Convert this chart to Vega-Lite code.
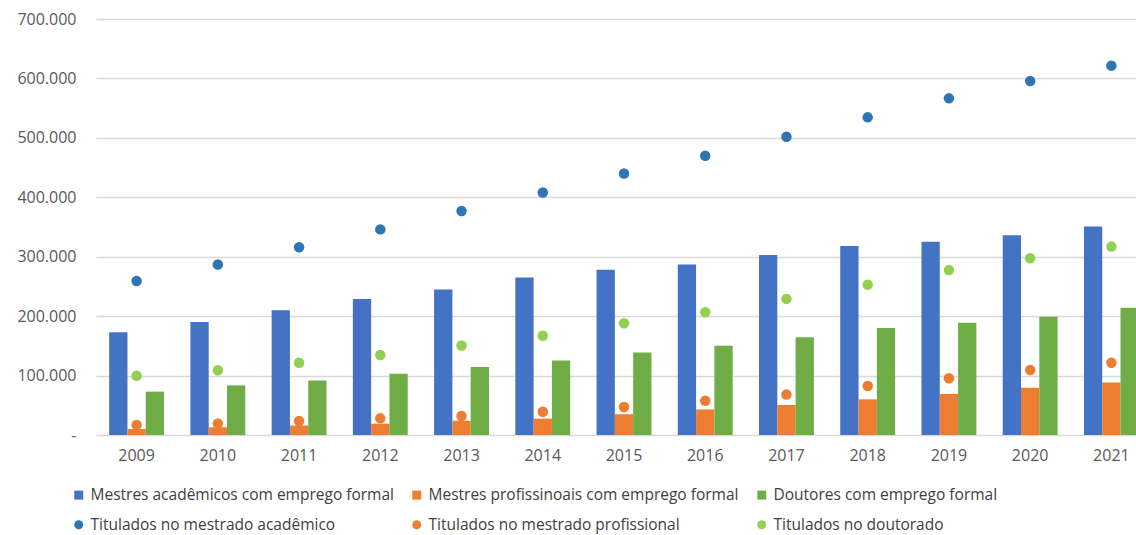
{
  "$schema": "https://vega.github.io/schema/vega-lite/v6.json",
  "width": 1040,
  "height": 416,
  "autosize": {"type": "none"},
  "padding": {"left": 96, "top": 19, "right": 0, "bottom": 100},
  "background": "white",
  "config": {
    "locale": {"number": {"decimal": ",", "thousands": ".", "grouping": [3], "currency": ["R$", ""]}},
    "view": {"stroke": null},
    "font": "Open Sans"
  },
  "data": {
    "values": [
      {"ano": "2009", "tipo": "barra", "serie": "Mestres acadêmicos com emprego formal", "valor": 173000},
      {"ano": "2010", "tipo": "barra", "serie": "Mestres acadêmicos com emprego formal", "valor": 190000},
      {"ano": "2011", "tipo": "barra", "serie": "Mestres acadêmicos com emprego formal", "valor": 210000},
      {"ano": "2012", "tipo": "barra", "serie": "Mestres acadêmicos com emprego formal", "valor": 229000},
      {"ano": "2013", "tipo": "barra", "serie": "Mestres acadêmicos com emprego formal", "valor": 245000},
      {"ano": "2014", "tipo": "barra", "serie": "Mestres acadêmicos com emprego formal", "valor": 265000},
      {"ano": "2015", "tipo": "barra", "serie": "Mestres acadêmicos com emprego formal", "valor": 278000},
      {"ano": "2016", "tipo": "barra", "serie": "Mestres acadêmicos com emprego formal", "valor": 287000},
      {"ano": "2017", "tipo": "barra", "serie": "Mestres acadêmicos com emprego formal", "valor": 303000},
      {"ano": "2018", "tipo": "barra", "serie": "Mestres acadêmicos com emprego formal", "valor": 318000},
      {"ano": "2019", "tipo": "barra", "serie": "Mestres acadêmicos com emprego formal", "valor": 325000},
      {"ano": "2020", "tipo": "barra", "serie": "Mestres acadêmicos com emprego formal", "valor": 336000},
      {"ano": "2021", "tipo": "barra", "serie": "Mestres acadêmicos com emprego formal", "valor": 351000},
      {"ano": "2009", "tipo": "barra", "serie": "Mestres profissinoais com emprego formal", "valor": 10000},
      {"ano": "2010", "tipo": "barra", "serie": "Mestres profissinoais com emprego formal", "valor": 13000},
      {"ano": "2011", "tipo": "barra", "serie": "Mestres profissinoais com emprego formal", "valor": 16000},
      {"ano": "2012", "tipo": "barra", "serie": "Mestres profissinoais com emprego formal", "valor": 19000},
      {"ano": "2013", "tipo": "barra", "serie": "Mestres profissinoais com emprego formal", "valor": 24000},
      {"ano": "2014", "tipo": "barra", "serie": "Mestres profissinoais com emprego formal", "valor": 27500},
      {"ano": "2015", "tipo": "barra", "serie": "Mestres profissinoais com emprego formal", "valor": 35000},
      {"ano": "2016", "tipo": "barra", "serie": "Mestres profissinoais com emprego formal", "valor": 43000},
      {"ano": "2017", "tipo": "barra", "serie": "Mestres profissinoais com emprego formal", "valor": 50500},
      {"ano": "2018", "tipo": "barra", "serie": "Mestres profissinoais com emprego formal", "valor": 60000},
      {"ano": "2019", "tipo": "barra", "serie": "Mestres profissinoais com emprego formal", "valor": 69000},
      {"ano": "2020", "tipo": "barra", "serie": "Mestres profissinoais com emprego formal", "valor": 79500},
      {"ano": "2021", "tipo": "barra", "serie": "Mestres profissinoais com emprego formal", "valor": 88500},
      {"ano": "2009", "tipo": "barra", "serie": "Doutores com emprego formal", "valor": 73000},
      {"ano": "2010", "tipo": "barra", "serie": "Doutores com emprego formal", "valor": 83500},
      {"ano": "2011", "tipo": "barra", "serie": "Doutores com emprego formal", "valor": 91500},
      {"ano": "2012", "tipo": "barra", "serie": "Doutores com emprego formal", "valor": 103000},
      {"ano": "2013", "tipo": "barra", "serie": "Doutores com emprego formal", "valor": 114500},
      {"ano": "2014", "tipo": "barra", "serie": "Doutores com emprego formal", "valor": 125500},
      {"ano": "2015", "tipo": "barra", "serie": "Doutores com emprego formal", "valor": 139000},
      {"ano": "2016", "tipo": "barra", "serie": "Doutores com emprego formal", "valor": 150000},
      {"ano": "2017", "tipo": "barra", "serie": "Doutores com emprego formal", "valor": 164500},
      {"ano": "2018", "tipo": "barra", "serie": "Doutores com emprego formal", "valor": 180000},
      {"ano": "2019", "tipo": "barra", "serie": "Doutores com emprego formal", "valor": 189000},
      {"ano": "2020", "tipo": "barra", "serie": "Doutores com emprego formal", "valor": 199000},
      {"ano": "2021", "tipo": "barra", "serie": "Doutores com emprego formal", "valor": 214000},
      {"ano": "2009", "tipo": "ponto", "serie": "Titulados no mestrado acadêmico", "valor": 259000},
      {"ano": "2010", "tipo": "ponto", "serie": "Titulados no mestrado acadêmico", "valor": 287000},
      {"ano": "2011", "tipo": "ponto", "serie": "Titulados no mestrado acadêmico", "valor": 316000},
      {"ano": "2012", "tipo": "ponto", "serie": "Titulados no mestrado acadêmico", "valor": 346000},
      {"ano": "2013", "tipo": "ponto", "serie": "Titulados no mestrado acadêmico", "valor": 377000},
      {"ano": "2014", "tipo": "ponto", "serie": "Titulados no mestrado acadêmico", "valor": 408000},
      {"ano": "2015", "tipo": "ponto", "serie": "Titulados no mestrado acadêmico", "valor": 440000},
      {"ano": "2016", "tipo": "ponto", "serie": "Titulados no mestrado acadêmico", "valor": 470000},
      {"ano": "2017", "tipo": "ponto", "serie": "Titulados no mestrado acadêmico", "valor": 502000},
      {"ano": "2018", "tipo": "ponto", "serie": "Titulados no mestrado acadêmico", "valor": 534500},
      {"ano": "2019", "tipo": "ponto", "serie": "Titulados no mestrado acadêmico", "valor": 566500},
      {"ano": "2020", "tipo": "ponto", "serie": "Titulados no mestrado acadêmico", "valor": 595500},
      {"ano": "2021", "tipo": "ponto", "serie": "Titulados no mestrado acadêmico", "valor": 621500},
      {"ano": "2009", "tipo": "ponto", "serie": "Titulados no mestrado profissional", "valor": 17000},
      {"ano": "2010", "tipo": "ponto", "serie": "Titulados no mestrado profissional", "valor": 19500},
      {"ano": "2011", "tipo": "ponto", "serie": "Titulados no mestrado profissional", "valor": 23500},
      {"ano": "2012", "tipo": "ponto", "serie": "Titulados no mestrado profissional", "valor": 28000},
      {"ano": "2013", "tipo": "ponto", "serie": "Titulados no mestrado profissional", "valor": 32000},
      {"ano": "2014", "tipo": "ponto", "serie": "Titulados no mestrado profissional", "valor": 39000},
      {"ano": "2015", "tipo": "ponto", "serie": "Titulados no mestrado profissional", "valor": 47000},
      {"ano": "2016", "tipo": "ponto", "serie": "Titulados no mestrado profissional", "valor": 57500},
      {"ano": "2017", "tipo": "ponto", "serie": "Titulados no mestrado profissional", "valor": 68000},
      {"ano": "2018", "tipo": "ponto", "serie": "Titulados no mestrado profissional", "valor": 82500},
      {"ano": "2019", "tipo": "ponto", "serie": "Titulados no mestrado profissional", "valor": 95500},
      {"ano": "2020", "tipo": "ponto", "serie": "Titulados no mestrado profissional", "valor": 109500},
      {"ano": "2021", "tipo": "ponto", "serie": "Titulados no mestrado profissional", "valor": 121500},
      {"ano": "2009", "tipo": "ponto", "serie": "Titulados no doutorado", "valor": 99500},
      {"ano": "2010", "tipo": "ponto", "serie": "Titulados no doutorado", "valor": 109000},
      {"ano": "2011", "tipo": "ponto", "serie": "Titulados no doutorado", "valor": 121500},
      {"ano": "2012", "tipo": "ponto", "serie": "Titulados no doutorado", "valor": 134500},
      {"ano": "2013", "tipo": "ponto", "serie": "Titulados no doutorado", "valor": 150500},
      {"ano": "2014", "tipo": "ponto", "serie": "Titulados no doutorado", "valor": 167000},
      {"ano": "2015", "tipo": "ponto", "serie": "Titulados no doutorado", "valor": 188000},
      {"ano": "2016", "tipo": "ponto", "serie": "Titulados no doutorado", "valor": 206500},
      {"ano": "2017", "tipo": "ponto", "serie": "Titulados no doutorado", "valor": 229000},
      {"ano": "2018", "tipo": "ponto", "serie": "Titulados no doutorado", "valor": 253000},
      {"ano": "2019", "tipo": "ponto", "serie": "Titulados no doutorado", "valor": 277500},
      {"ano": "2020", "tipo": "ponto", "serie": "Titulados no doutorado", "valor": 297500},
      {"ano": "2021", "tipo": "ponto", "serie": "Titulados no doutorado", "valor": 317000}
    ]
  },
  "encoding": {
    "x": {
      "field": "ano",
      "type": "nominal",
      "scale": {"range": [0, 1056], "paddingInner": 0, "paddingOuter": 0},
      "axis": {
        "title": null,
        "domain": false,
        "ticks": false,
        "labelAngle": 0,
        "labelFont": "Open Sans",
        "labelFontSize": 16,
        "labelColor": "#595959",
        "labelPadding": 12
      }
    },
    "y": {
      "field": "valor",
      "type": "quantitative",
      "scale": {"domain": [0, 700000], "nice": false},
      "axis": {
        "title": null,
        "domain": false,
        "ticks": false,
        "values": [0, 100000, 200000, 300000, 400000, 500000, 600000, 700000],
        "labelExpr": "datum.value == 0 ? '-' : format(datum.value, ',d')",
        "labelFont": "Open Sans",
        "labelFontSize": 16,
        "labelColor": "#595959",
        "labelPadding": 20,
        "gridColor": "#d9d9d9",
        "gridWidth": 1.5
      }
    },
    "color": {
      "field": "serie",
      "type": "nominal",
      "scale": {
        "domain": ["Mestres acadêmicos com emprego formal", "Mestres profissinoais com emprego formal", "Doutores com emprego formal", "Titulados no mestrado acadêmico", "Titulados no mestrado profissional", "Titulados no doutorado"],
        "range": ["#4472C4", "#ED7D31", "#70AD47", "#2E75B6", "#ED7D31", "#92D050"]
      },
      "legend": {
        "title": null,
        "orient": "none",
        "legendX": -25,
        "legendY": 468,
        "direction": "horizontal",
        "columns": 3,
        "columnPadding": 15,
        "rowPadding": 13,
        "symbolSize": 80,
        "symbolStrokeWidth": 0,
        "labelFont": "Open Sans",
        "labelFontSize": 15.5,
        "labelColor": "#404040",
        "labelOffset": 4,
        "labelLimit": 500
      }
    }
  },
  "layer": [
    {
      "transform": [{"filter": "datum.tipo == 'barra'"}],
      "mark": {"type": "bar"},
      "encoding": {
        "xOffset": {
          "field": "serie",
          "type": "nominal",
          "scale": {"domain": ["Mestres acadêmicos com emprego formal", "Mestres profissinoais com emprego formal", "Doutores com emprego formal"], "paddingInner": 0, "paddingOuter": 0.72}
        }
      }
    },
    {
      "transform": [{"filter": "datum.tipo == 'ponto'"}],
      "mark": {"type": "point", "filled": true, "size": 110, "opacity": 1},
      "encoding": {
        "shape": {
          "field": "serie",
          "type": "nominal",
          "scale": {
            "domain": ["Mestres acadêmicos com emprego formal", "Mestres profissinoais com emprego formal", "Doutores com emprego formal", "Titulados no mestrado acadêmico", "Titulados no mestrado profissional", "Titulados no doutorado"],
            "range": ["square", "square", "square", "circle", "circle", "circle"]
          },
          "legend": {
            "title": null,
            "orient": "none",
            "legendX": -25,
            "legendY": 468,
            "direction": "horizontal",
            "columns": 3,
            "columnPadding": 15,
            "rowPadding": 13,
            "symbolSize": 80,
            "symbolStrokeWidth": 0,
            "labelFont": "Open Sans",
            "labelFontSize": 15.5,
            "labelColor": "#404040",
            "labelOffset": 4,
            "labelLimit": 500
          }
        }
      }
    }
  ]
}
